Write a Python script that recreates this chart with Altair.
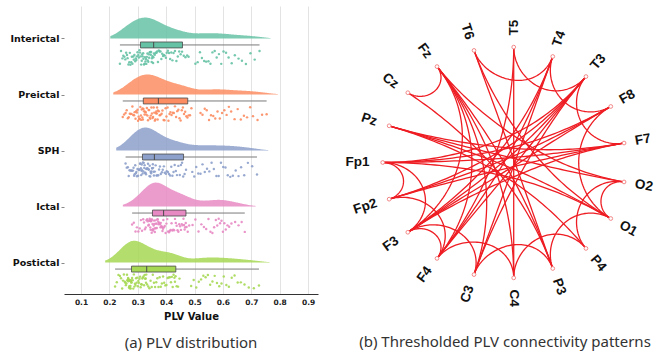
import altair as alt
import pandas as pd
import numpy as np

# ---------------- data: PLV distribution ----------------
groups = ["Interictal", "Preictal", "SPH", "Ictal", "Postictal"]
colors = ["#66c2a5", "#fc8d62", "#8da0cb", "#e78ac3", "#a6d854"]

interictal = [0.237,0.241,0.246,0.249,0.253,0.256,0.259,0.262,0.264,0.267,0.270,0.272,0.274,0.277,0.279,0.281,0.284,0.286,0.288,0.291,0.293,0.295,0.297,0.299,0.302,0.304,0.306,0.308,
              0.310,0.312,0.314,0.315,0.317,0.319,0.320,0.322,0.324,0.325,0.327,0.329,0.330,0.332,0.334,0.335,0.337,0.339,0.340,0.342,0.344,0.346,0.347,0.349,0.350,0.352,0.354,0.355,
              0.357,0.360,0.363,0.366,0.368,0.371,0.374,0.377,0.380,0.383,0.386,0.389,0.392,0.395,0.399,0.402,0.406,0.410,0.414,0.418,0.422,0.426,0.431,0.436,0.441,0.446,0.451,0.456,
              0.462,0.468,0.474,0.479,0.503,0.511,0.519,0.526,0.534,0.541,0.549,0.556,0.563,0.571,0.578,0.586,0.594,0.602,0.611,0.620,0.631,0.642,0.655,0.667,0.681,0.697,0.712,0.729]
preictal = [0.247,0.252,0.257,0.261,0.265,0.268,0.272,0.275,0.278,0.281,0.284,0.287,0.289,0.292,0.294,0.297,0.299,0.301,0.303,0.305,0.307,0.309,0.311,0.312,0.314,0.316,0.317,0.318,
            0.320,0.322,0.324,0.326,0.328,0.330,0.332,0.334,0.336,0.338,0.340,0.342,0.344,0.346,0.348,0.350,0.352,0.354,0.356,0.358,0.360,0.362,0.364,0.365,0.367,0.368,0.370,0.371,
            0.374,0.377,0.380,0.384,0.387,0.391,0.394,0.398,0.401,0.405,0.408,0.412,0.415,0.419,0.423,0.427,0.431,0.435,0.439,0.443,0.447,0.451,0.455,0.459,0.463,0.467,0.471,0.475,
            0.479,0.484,0.489,0.521,0.528,0.536,0.543,0.551,0.558,0.566,0.573,0.581,0.589,0.597,0.605,0.613,0.621,0.629,0.641,0.652,0.663,0.674,0.685,0.696,0.706,0.722,0.738,0.754]
sph = [0.257,0.261,0.265,0.268,0.271,0.274,0.277,0.280,0.283,0.285,0.287,0.289,0.291,0.293,0.295,0.297,0.299,0.301,0.303,0.305,0.306,0.308,0.309,0.311,0.312,0.313,0.314,0.315,
       0.317,0.318,0.320,0.321,0.323,0.324,0.326,0.327,0.329,0.330,0.332,0.333,0.335,0.336,0.338,0.339,0.341,0.342,0.344,0.345,0.347,0.348,0.350,0.351,0.353,0.354,0.356,0.357,
       0.360,0.363,0.366,0.369,0.372,0.375,0.378,0.381,0.385,0.388,0.392,0.395,0.399,0.402,0.406,0.410,0.414,0.418,0.422,0.426,0.430,0.434,0.438,0.443,0.448,0.452,0.456,0.460,
       0.465,0.470,0.492,0.499,0.506,0.513,0.521,0.528,0.536,0.544,0.552,0.560,0.568,0.577,0.585,0.593,0.601,0.609,0.617,0.626,0.635,0.645,0.655,0.664,0.675,0.688,0.703,0.720]
ictal = [0.280,0.286,0.292,0.297,0.302,0.307,0.311,0.315,0.319,0.322,0.325,0.328,0.331,0.333,0.335,0.337,0.339,0.340,0.342,0.343,0.344,0.345,0.346,0.347,0.348,0.349,0.350,0.351,
         0.352,0.353,0.354,0.356,0.357,0.358,0.359,0.360,0.362,0.363,0.364,0.366,0.367,0.369,0.370,0.372,0.373,0.375,0.376,0.378,0.380,0.381,0.383,0.384,0.386,0.387,0.389,0.390,
         0.392,0.395,0.398,0.401,0.404,0.407,0.410,0.413,0.416,0.419,0.422,0.425,0.428,0.431,0.434,0.437,0.440,0.443,0.446,0.449,0.452,0.455,0.458,0.461,0.463,0.465,0.467,0.469,
         0.472,0.476,0.481,0.493,0.503,0.514,0.524,0.533,0.541,0.549,0.556,0.563,0.569,0.575,0.580,0.585,0.590,0.595,0.600,0.605,0.610,0.616,0.622,0.630,0.643,0.655,0.666,0.677]
postictal = [0.220,0.226,0.232,0.237,0.241,0.245,0.248,0.251,0.254,0.256,0.258,0.260,0.262,0.263,0.265,0.266,0.267,0.268,0.269,0.270,0.271,0.272,0.273,0.274,0.275,0.275,0.276,0.277,
             0.278,0.280,0.282,0.284,0.286,0.288,0.290,0.292,0.294,0.296,0.298,0.300,0.302,0.304,0.306,0.308,0.310,0.312,0.314,0.316,0.318,0.320,0.322,0.324,0.326,0.328,0.329,0.330,
             0.333,0.337,0.341,0.345,0.349,0.353,0.357,0.361,0.365,0.369,0.373,0.377,0.381,0.385,0.389,0.393,0.397,0.401,0.405,0.409,0.413,0.417,0.420,0.423,0.426,0.429,0.431,0.433,
             0.437,0.442,0.447,0.488,0.497,0.506,0.515,0.523,0.531,0.539,0.547,0.555,0.563,0.571,0.579,0.587,0.595,0.603,0.612,0.621,0.631,0.641,0.652,0.663,0.676,0.691,0.709,0.727]

x_ticks = [0.1, 0.2, 0.3, 0.4, 0.5, 0.6, 0.7, 0.8, 0.9]

# ---------------- data: connectivity ----------------
node_names = ["T5", "T4", "T3", "F8", "F7", "O2", "O1", "P4", "P3", "C4",
              "C3", "F4", "F3", "Fp2", "Fp1", "Pz", "Cz", "Fz", "T6"]
node_angles = [90, 70, 50, 30, 10, -10, -30, -50, -70, -90,
               252, 234, 216, 198, 180, 162, 144, 126, 108]
edges_from = ["Cz","T6","T5","T4","T3","Fp1","Fp1","Fp2","F3","F3","F4","C3","C4","P3","P4","O1",
              "Fz","Fz","Fz","Fz","Fz","Fz",
              "Pz","Pz","Pz","Pz",
              "Fp1","Fp1","Fp1","Fp1",
              "Fp2","Fp2","Fp2",
              "F3","F3","F3","F3",
              "F4","F4","F4",
              "C3","C3",
              "C4",
              "P3","P3",
              "O1","T6"]
edges_to = ["Fz","T4","T3","F8","F7","Fp2","F3","F4","F4","C3","C4","P3","P4","O1","O2","O2",
            "F4","C3","C4","P3","F3","O2",
            "F7","O2","O1","P4",
            "F7","F8","O1","T3",
            "F7","F8","T3",
            "F8","F7","T3","T4",
            "T3","T4","T5",
            "T4","T3",
            "T5",
            "T6","Cz",
            "F8","O1"]

# ---------------- build tables ----------------
rows = []
for gi, (g, vals) in enumerate(zip(groups, [interictal, preictal, sph, ictal, postictal])):
    for i, v in enumerate(vals):
        h = np.sin((i + 1) * 12.9898 + gi * 78.233) * 43758.5453
        jit = (h - np.floor(h)) - 0.5
        rows.append({"group": g, "pos": gi, "value": v, "ypt": gi + 0.34 + jit * 0.26})
pts = pd.DataFrame(rows)

xscale = alt.Scale(domain=[0.04, 0.935], nice=False, zero=False)
yscale = alt.Scale(domain=[-0.58, 4.56], nice=False, zero=False, reverse=True)
xaxis = alt.Axis(values=x_ticks, format=".1f", title="PLV Value", grid=True, gridColor="#e3e3e3",
                 gridWidth=1, ticks=False, domainColor="#333333", domainWidth=1,
                 labelFont="DejaVu Sans", labelFontWeight="bold", labelFontSize=7.5, labelColor="#222",
                 labelPadding=4, titleFont="DejaVu Sans", titleFontWeight="bold", titleFontSize=10,
                 titleColor="#111", titlePadding=6)
yaxis = alt.Axis(values=[0, 1, 2, 3, 4], labelExpr="['Interictal','Preictal','SPH','Ictal','Postictal'][datum.value]",
                 title=None, grid=False, domain=False, tickSize=3, tickColor="#888", labelPadding=2,
                 labelFont="DejaVu Sans", labelFontWeight="bold", labelFontSize=9.5, labelColor="#111",
                 minExtent=64, maxExtent=64)

def X(f):
    return alt.X(f, type="quantitative", scale=xscale, axis=xaxis)

def Y(f):
    return alt.Y(f, type="quantitative", scale=yscale, axis=yaxis)

col = alt.Color("group:N", scale=alt.Scale(domain=groups, range=colors), legend=None)
base = alt.Chart(pts)

dens = base.transform_joinaggregate(
    vmin="min(value)", vmax="max(value)", groupby=["group"]
).transform_density(
    "value", groupby=["group", "pos", "vmin", "vmax"], as_=["value", "density"],
    bandwidth=0.035, extent=[0.12, 0.9], steps=300
).transform_filter(
    "datum.value >= datum.vmin - 0.035 && datum.value <= datum.vmax + 0.04"
).transform_calculate(
    ytop="datum.pos - datum.density * 0.085"
).mark_area(opacity=0.85).encode(x=X("value"), y=Y("ytop"), y2="pos:Q", color=col, detail="group:N")

stats = base.transform_aggregate(
    q1="q1(value)", med="median(value)", q3="q3(value)", lo="min(value)", hi="max(value)",
    groupby=["group", "pos"]
).transform_calculate(
    yb="datum.pos + 0.115", yb1="datum.pos + 0.062", yb2="datum.pos + 0.168"
)
whisk = stats.mark_rule(color="#7a7a7a", strokeWidth=1).encode(x=X("lo"), x2="hi:Q", y=Y("yb"))
box = stats.mark_rect(stroke="#4a4a4a", strokeWidth=0.8).encode(x=X("q1"), x2="q3:Q", y=Y("yb1"), y2="yb2:Q", color=col)
med = stats.mark_rule(color="#4a4a4a", strokeWidth=1).encode(x=X("med"), y=Y("yb1"), y2="yb2:Q")
pts_layer = base.mark_circle(size=6, opacity=0.9).encode(x=X("value"), y=Y("ypt"), color=col)

left = alt.layer(dens, whisk, box, med, pts_layer).properties(
    width=254, height=288,
    title=alt.TitleParams("(a) PLV distribution", orient="bottom", anchor="middle", font="Noto Sans",
                          fontSize=15, fontWeight="normal", color="#333333", offset=14)
)

# ---------------- connectivity geometry ----------------
def stretch(x, y):
    x = np.asarray(x, dtype=float)
    y = np.asarray(y, dtype=float)
    return x * (1.085 - 0.085 * np.tanh(3 * x)), y * (1.03 - 0.03 * np.tanh(3 * x))

ang = dict(zip(node_names, np.radians(node_angles)))
erows = []
for eid, (a_n, b_n) in enumerate(zip(edges_from, edges_to)):
    a, b = ang[a_n], ang[b_n]
    pa = np.array([np.cos(a), np.sin(a)])
    pb = np.array([np.cos(b), np.sin(b)])
    d = np.arccos(np.clip(pa @ pb, -1, 1))
    if abs(np.pi - d) < 1e-3:
        t = np.linspace(0, 1, 40)
        xs = pa[0] + (pb[0] - pa[0]) * t
        ys = pa[1] + (pb[1] - pa[1]) * t
    else:
        m = (pa + pb) / np.linalg.norm(pa + pb)
        c = m / np.cos(d / 2)
        r = np.tan(d / 2)
        fa = np.arctan2(pa[1] - c[1], pa[0] - c[0])
        fb = np.arctan2(pb[1] - c[1], pb[0] - c[0])
        df = (fb - fa + np.pi) % (2 * np.pi) - np.pi
        f = fa + df * np.linspace(0, 1, 60)
        xs = c[0] + r * np.cos(f)
        ys = c[1] + r * np.sin(f)
    sx, sy = stretch(xs, ys)
    for k, (u, v) in enumerate(zip(sx, sy)):
        erows.append({"eid": eid, "k": k, "x": u, "y": v})
edf = pd.DataFrame(erows)

nrows = []
for n, a in zip(node_names, node_angles):
    ar = np.radians(a)
    nx, ny = stretch(np.cos(ar), np.sin(ar))
    lx, ly = stretch(1.10 * np.cos(ar), 1.10 * np.sin(ar))
    right_side = np.cos(ar) > -1e-6
    tang = (-a) % 360 if right_side else (180 - a) % 360
    nrows.append({"name": n, "x": float(nx), "y": float(ny), "lx": float(lx), "ly": float(ly),
                  "tang": tang, "side": "R" if right_side else "L"})
ndf = pd.DataFrame(nrows)

rx = alt.Scale(domain=[-1.551, 1.3955], nice=False, zero=False)
ry = alt.Scale(domain=[-1.174, 1.397], nice=False, zero=False)

edge_layer = alt.Chart(edf).mark_line(color="#ee1d23", strokeWidth=1.3).encode(
    x=alt.X("x:Q", scale=rx, axis=None), y=alt.Y("y:Q", scale=ry, axis=None),
    detail="eid:N", order="k:Q")
node_layer = alt.Chart(ndf).mark_point(shape="circle", filled=True, fill="white", size=14,
                                       stroke="#f07c7c", strokeWidth=0.9, opacity=1).encode(
    x=alt.X("x:Q", scale=rx, axis=None), y=alt.Y("y:Q", scale=ry, axis=None))
lab_r = alt.Chart(ndf).transform_filter("datum.side == 'R'").mark_text(
    align="left", baseline="middle", font="Liberation Sans", fontWeight="bold", fontSize=13.5, color="#111").encode(
    x=alt.X("lx:Q", scale=rx, axis=None), y=alt.Y("ly:Q", scale=ry, axis=None),
    angle=alt.Angle("tang:Q", scale=None), text="name:N")
lab_l = alt.Chart(ndf).transform_filter("datum.side == 'L'").mark_text(
    align="right", baseline="middle", font="Liberation Sans", fontWeight="bold", fontSize=13.5, color="#111").encode(
    x=alt.X("lx:Q", scale=rx, axis=None), y=alt.Y("ly:Q", scale=ry, axis=None),
    angle=alt.Angle("tang:Q", scale=None), text="name:N")

right = alt.layer(edge_layer, node_layer, lab_r, lab_l).properties(
    width=330, height=288,
    title=alt.TitleParams("(b) Thresholded PLV connectivity  patterns", orient="bottom", anchor="middle",
                          font="Noto Sans", fontSize=15, fontWeight="normal", color="#333333", offset=28)
)

chart = alt.hconcat(left, right, spacing=22).configure_view(stroke=None).properties(
    padding={"left": 0, "top": 6, "right": 0, "bottom": 0}, background="white")

chart.save("out.html", embed_options={"renderer": "svg", "actions": False})
